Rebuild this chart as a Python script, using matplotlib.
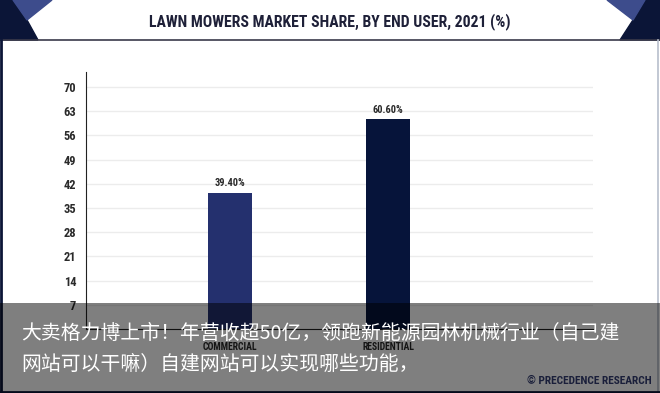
import matplotlib
matplotlib.use("Agg")
import matplotlib.pyplot as plt
from matplotlib import font_manager
from matplotlib.patches import Polygon, Rectangle

# data
categories = ["COMMERCIAL", "RESIDENTIAL"]
shares = [39.4, 60.6]
bar_labels = ["39.40%", "60.60%"]
yticks = [7, 14, 21, 28, 35, 42, 49, 56, 63, 70]
title = "LAWN MOWERS MARKET SHARE, BY END USER, 2021 (%)"
caption = ["大卖格力博上市！年营收超50亿，领跑新能源园林机械行业（自己建",
           "网站可以干嘛）自建网站可以实现哪些功能，"]
source = "© PRECEDENCE RESEARCH"

# pick a narrow font if one is there
names = {f.name for f in font_manager.fontManager.ttflist}
cond = dict(family="DejaVu Sans", weight="bold")
for fam in ["Roboto Condensed", "Open Sans Condensed", "Liberation Sans Narrow",
            "Noto Sans Condensed", "Roboto", "Liberation Sans"]:
    if fam in names:
        cond = dict(family=fam, weight="bold")
        break

navy = "#0b1537"
W, H = 660, 393
fig = plt.figure(figsize=(W / 100, H / 100), dpi=100)
renderer = fig.canvas.get_renderer()

def px(x0, y0, x1, y1):
    return [x0 / W, 1 - y1 / H, (x1 - x0) / W, (y1 - y0) / H]

def fit_width(t, target):
    # shrink/grow the font so the text spans target pixels
    w = t.get_window_extent(renderer).width
    t.set_fontsize(t.get_fontsize() * target / w)

# background / decoration
bg = fig.add_axes([0, 0, 1, 1], zorder=0)
bg.set_xlim(0, W)
bg.set_ylim(H, 0)
bg.axis("off")
bg.add_patch(Polygon([(0, 0), (13, 0), (27, 20), (38, 40), (0, 40)], color=navy))
bg.add_patch(Polygon([(13, 0), (52, 0), (27, 20)], color="#3d4c8c"))
bg.add_patch(Polygon([(660, 0), (645, 0), (633, 20), (620, 40), (660, 40)], color=navy))
bg.add_patch(Polygon([(645, 0), (607, 0), (633, 20)], color="#3d4c8c"))
bg.plot([0, W], [40, 40], color="#3a3a4a", lw=1.2)
bg.plot([1, 1], [40, H], color=navy, lw=2)
bg.plot([658, 658], [40, H], color="#b8bfcc", lw=1.2)
bg.plot([0, W], [392, 392], color=navy, lw=2)
tt = bg.text(330, 22, title, ha="center", va="center", fontsize=12,
             color="#1e2038", **cond)
fit_width(tt, 364)

# chart
ax = fig.add_axes(px(86, 72, 593, 329), zorder=1)
ax.patch.set_alpha(0)
x = range(len(categories))
bars = ax.bar(x, shares, width=0.28, color=["#24306e", "#06143a"], zorder=2)
ax.set_xlim(-0.911, 2.297)
ax.set_ylim(0, 74.3)
ax.set_yticks(yticks)
ax.set_yticklabels([str(t) for t in yticks], fontsize=9, color="#2a2a2a", **cond)
ax.set_xticks(list(x))
ax.set_xticklabels(categories, fontsize=7, color="#2a2a2a", **cond)
ax.tick_params(axis="y", length=0, pad=7)
ax.tick_params(axis="x", length=0, pad=9)
ax.grid(axis="y", color="#ececec", lw=1)
for s in ["top", "right"]:
    ax.spines[s].set_visible(False)
ax.spines["left"].set_color("#222222")
ax.spines["bottom"].set_color("#222222")
for b, lab in zip(bars, bar_labels):
    ax.annotate(lab, (b.get_x() + b.get_width() / 2, b.get_height()),
                xytext=(0, 3.5), textcoords="offset points", ha="center", va="bottom",
                fontsize=7.5, color="#2a2a2a", **cond)

# overlay with caption
fg = fig.add_axes([0, 0, 1, 1], zorder=3)
fg.patch.set_alpha(0)
fg.set_xlim(0, W)
fg.set_ylim(H, 0)
fg.axis("off")
fg.add_patch(Rectangle((0, 303), W, 90, color="black", alpha=0.5, lw=0))
c1 = fg.text(21, 333.5, caption[0], ha="left", va="center", fontsize=14.3, color="white",
             family=["Noto Sans CJK SC", "DejaVu Sans"])
fit_width(c1, 597)
fg.text(21, 364, caption[1], ha="left", va="center", fontsize=c1.get_fontsize(),
        color="white", family=["Noto Sans CJK SC", "DejaVu Sans"])
st = fg.text(652, 381, source, ha="right", va="center", fontsize=8, color="#1a1f3a", **cond)
fit_width(st, 125)

fig.savefig("out.png", dpi=100)
